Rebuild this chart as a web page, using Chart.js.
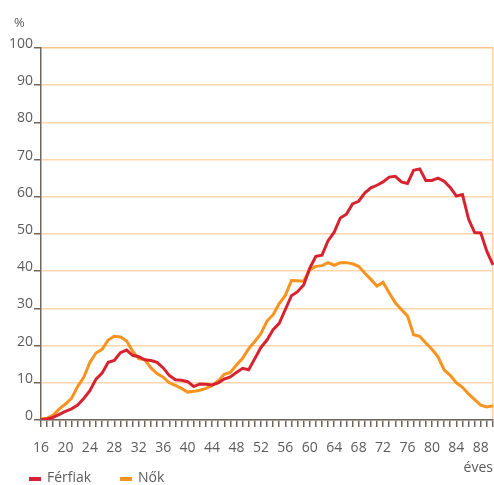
<!DOCTYPE html>
<html>
<head>
<meta charset="utf-8">
<script src="https://cdn.jsdelivr.net/npm/chart.js@4/dist/chart.umd.min.js"></script>
<style>
  html, body { margin: 0; padding: 0; background: #fff; }
  #wrap { position: relative; width: 494px; height: 485px; }
  canvas { display: block; }
  .legend { position: absolute; top: 468px; font-family: 'Open Sans', sans-serif; font-size: 14px; color: #5c5c5c; }
  .legend span.sw { position: absolute; top: 9px; width: 12px; height: 4px; }
  .legend span.tx { position: absolute; left: 18px; top: -1px; white-space: nowrap; }
</style>
</head>
<body>
<div id="wrap">
  <canvas id="chart" width="494" height="485"></canvas>
  <div class="legend" style="left:29px"><span class="sw" style="background:#d7232f"></span><span class="tx">Férfiak</span></div>
  <div class="legend" style="left:120px"><span class="sw" style="background:#f7931e"></span><span class="tx">Nők</span></div>
</div>
<script>
const ages = [16, 17, 18, 19, 20, 21, 22, 23, 24, 25, 26, 27, 28, 29, 30, 31, 32, 33, 34, 35,
    36, 37, 38, 39, 40, 41, 42, 43, 44, 45, 46, 47, 48, 49, 50, 51, 52, 53, 54, 55,
    56, 57, 58, 59, 60, 61, 62, 63, 64, 65, 66, 67, 68, 69, 70, 71, 72, 73, 74, 75,
    76, 77, 78, 79, 80, 81, 82, 83, 84, 85, 86, 87, 88, 89, 90];

const ferfiak = [0.1, 0.3, 0.7, 1.5, 2.3, 3.0, 4.0, 5.8, 7.9, 11.0, 12.6, 15.5, 16.0, 18.1, 18.8, 17.4, 17.0, 16.2, 16.0, 15.5,
    14.0, 12.0, 10.8, 10.7, 10.3, 9.0, 9.7, 9.6, 9.4, 10.0, 11.0, 11.6, 12.8, 13.9, 13.5, 16.5, 19.5, 21.5, 24.3, 26.0,
    29.7, 33.4, 34.5, 36.3, 40.8, 44.0, 44.3, 48.2, 50.5, 54.3, 55.3, 58.1, 58.8, 61.0, 62.4, 63.1, 64.0, 65.3, 65.5, 64.0,
    63.6, 67.1, 67.5, 64.4, 64.4, 65.0, 64.2, 62.5, 60.2, 60.6, 54.0, 50.4, 50.3, 45.3, 41.7];

const nok = [0.3, 0.5, 1.3, 3.0, 4.3, 5.8, 9.0, 11.5, 15.5, 18.0, 19.0, 21.5, 22.5, 22.3, 21.3, 18.5, 16.5, 16.2, 14.0, 12.5,
    11.5, 10.0, 9.3, 8.5, 7.5, 7.7, 8.0, 8.5, 9.2, 10.5, 12.3, 12.8, 14.8, 16.6, 19.2, 21.1, 23.2, 26.6, 28.3, 31.3,
    33.5, 37.5, 37.4, 37.3, 40.4, 41.3, 41.5, 42.3, 41.6, 42.3, 42.3, 42.0, 41.3, 39.5, 37.8, 36.0, 37.0, 34.2, 31.5, 29.7,
    28.0, 22.9, 22.5, 20.7, 19.0, 17.0, 13.5, 12.0, 10.0, 8.8, 7.0, 5.5, 4.0, 3.5, 3.8];

const labelStep = 4;
const yMax = 100;
const yStep = 10;

const gridOrange = '#fdd6ad';
const axisGray = '#6e6660';
const textGray = '#5c5c5c';
const fontFamily = "'Open Sans', sans-serif";

// "%" above the y axis
const unitLabel = {
    id: 'unitLabel',
    afterDraw(chart) {
        const ctx = chart.ctx;
        const y = chart.scales.y;
        ctx.save();
        ctx.font = '13px ' + fontFamily;
        ctx.fillStyle = textGray;
        ctx.textAlign = 'left';
        ctx.textBaseline = 'alphabetic';
        ctx.fillText('%', 14, y.top - 21);
        ctx.restore();
    }
};

new Chart(document.getElementById('chart'), {
    type: 'line',
    data: {
        labels: ages,
        datasets: [{
            label: 'Férfiak',
            data: ferfiak,
            borderColor: '#d7232f',
            borderWidth: 3,
            pointRadius: 0,
            tension: 0,
            fill: false
        }, {
            label: 'Nők',
            data: nok,
            borderColor: '#f7931e',
            borderWidth: 3,
            pointRadius: 0,
            tension: 0,
            fill: false
        }]
    },
    options: {
        responsive: false,
        animation: false,
        layout: { padding: { left: 8, right: 1, top: 48, bottom: 10 } },
        plugins: {
            legend: { display: false },
            tooltip: { enabled: false }
        },
        scales: {
            x: {
                type: 'category',
                offset: false,
                border: { display: true, color: axisGray, width: 1.5 },
                grid: {
                    drawOnChartArea: true,
                    drawTicks: true,
                    tickLength: 7,
                    tickColor: axisGray,
                    tickWidth: 1.5,
                    color: ctx => ctx.index === ages.length - 1 ? gridOrange : 'rgba(0,0,0,0)',
                    lineWidth: 1.5
                },
                ticks: {
                    autoSkip: false,
                    maxRotation: 0,
                    padding: 0,
                    color: textGray,
                    font: { family: fontFamily, size: 14, lineHeight: '43px' },
                    callback: function (value, index) {
                        const a = ages[index];
                        return (a - ages[0]) % labelStep === 0 ? String(a) : '';
                    }
                },
                title: {
                    display: true,
                    text: 'éves',
                    align: 'end',
                    color: textGray,
                    font: { family: fontFamily, size: 14, lineHeight: 1 },
                    padding: { top: -9, bottom: 0 }
                }
            },
            y: {
                min: 0,
                max: yMax,
                border: { display: true, color: axisGray, width: 1.5 },
                grid: {
                    color: ctx => ctx.tick && ctx.tick.value === yMax ? '#fcc486' : gridOrange,
                    lineWidth: 1.5,
                    tickLength: 7,
                    tickColor: axisGray,
                    tickWidth: 1.5
                },
                ticks: {
                    stepSize: yStep,
                    padding: 1,
                    labelOffset: -4,
                    color: textGray,
                    font: { family: fontFamily, size: 14 }
                }
            }
        }
    },
    plugins: [unitLabel]
});
</script>
</body>
</html>
